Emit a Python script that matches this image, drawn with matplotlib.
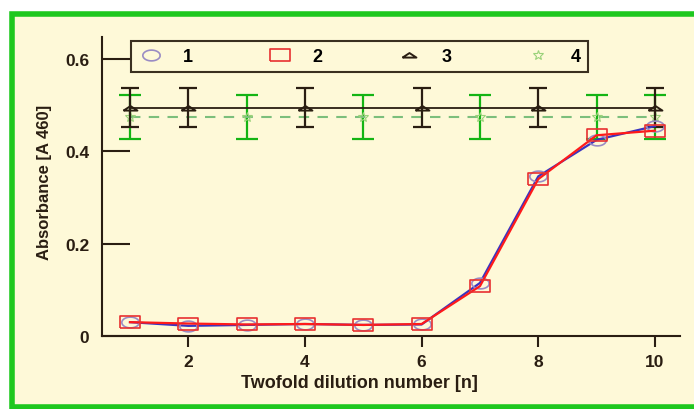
import numpy as np
import matplotlib
matplotlib.use("Agg")
from matplotlib import pyplot as plt
from matplotlib.patches import Rectangle

plt.rcParams['font.family'] = ['Liberation Sans', 'DejaVu Sans']
plt.rcParams['font.weight'] = 'bold'
plt.rcParams['axes.labelweight'] = 'bold'

# dilution steps
dil = np.arange(1, 11)
abs1 = [0.030, 0.022, 0.024, 0.026, 0.024, 0.025, 0.115, 0.346, 0.425, 0.455]
abs2 = [0.030, 0.027, 0.025, 0.026, 0.024, 0.026, 0.108, 0.340, 0.435, 0.445]

# controls, drawn with error bars
ctrl3_x = [1, 2, 4, 6, 8, 10]
ctrl3_y = [0.495] * 6
ctrl3_err = [0.043] * 6
ctrl4_x = [1, 3, 5, 7, 9, 10]
ctrl4_y = [0.475] * 6
ctrl4_err = [0.047] * 6

labels = ['1', '2', '3', '4']

bg = '#fef9d8'
ink = '#2a1e12'

fig = plt.figure(figsize=(6.94, 4.10), dpi=100)
fig.patch.set_facecolor('white')
fig.patches.append(Rectangle((12/694, 1-407.5/410), 700/694, (407.5-14.5)/410,
                             transform=fig.transFigure, facecolor=bg,
                             edgecolor='#1ec81e', linewidth=4, zorder=-10))

ax = fig.add_axes([102/694, 1-337/410, (680-102)/694, (337-38)/410])
ax.set_facecolor('none')

# flattened markers
rect = [(-1, -0.6), (1, -0.6), (1, 0.6), (-1, 0.6), (-1, -0.6)]
t = np.linspace(0, 2*np.pi, 40)
ell = list(zip(np.cos(t), 0.62*np.sin(t)))
tri = [(-1, -0.3), (0, 0.35), (1, -0.3), (-1, -0.3)]

ax.errorbar(ctrl4_x, ctrl4_y, yerr=ctrl4_err, fmt='none', ecolor='#14b414',
            elinewidth=1.6, capsize=8, capthick=1.6, zorder=2)
ax.plot(dil, [ctrl4_y[0]]*len(dil), color='#7cbf7c', lw=1.5, ls=(0, (5, 4)), zorder=2)
ax.plot(ctrl4_x, ctrl4_y, ls='none', marker='*', ms=7, mfc='none', mec='#9ad27a',
        mew=0.8, zorder=3, label=labels[3])

ax.errorbar(ctrl3_x, ctrl3_y, yerr=ctrl3_err, fmt='none', ecolor=ink,
            elinewidth=1.6, capsize=6.5, capthick=1.6, zorder=4)
ax.plot(dil, [ctrl3_y[0]]*len(dil), color=ink, lw=1.3, zorder=4)
ax.plot(ctrl3_x, ctrl3_y, ls='none', marker=tri, ms=10, mfc='none', mec=ink,
        mew=1.4, zorder=5, label=labels[2])

ax.plot(dil, abs1, color='#3a34c0', lw=1.6, zorder=6)
ax.plot(dil, abs1, ls='none', marker=ell, ms=12.5, mfc='none', mec='#9a8cc4',
        mew=1.2, zorder=7, label=labels[0])
ax.plot(dil, abs2, color='#ff1a1a', lw=1.6, zorder=8)
ax.plot(dil, abs2, ls='none', marker=rect, ms=14, mfc='none', mec='#e83030',
        mew=1.2, zorder=9, label=labels[1])

ax.set_xlim(0.52, 10.43)
ax.set_ylim(0, 0.648)
ax.set_xticks([2, 4, 6, 8, 10])
ax.set_yticks([0, 0.2, 0.4, 0.6])
ax.set_yticklabels(['0', '0.2', '0.4', '0.6'])
ax.tick_params(axis='y', direction='in', length=20, width=1.5, color=ink,
               labelsize=12.5, pad=9, labelcolor=ink)
ax.tick_params(axis='x', direction='out', length=8, width=1.5, color=ink,
               labelsize=12.5, pad=5, labelcolor=ink)
for s in ['top', 'right']:
    ax.spines[s].set_visible(False)
for s in ['left', 'bottom']:
    ax.spines[s].set_color(ink)
    ax.spines[s].set_linewidth(1.5)

ax.set_xlabel('Twofold dilution number [n]', fontsize=13, color=ink)
ax.xaxis.set_label_coords((359-102)/578, -(384-337)/299)
ax.xaxis.label.set_va('center')
ax.set_ylabel('Absorbance [A 460]', fontsize=12, color=ink)
ax.yaxis.set_label_coords(-(102-45)/578, (337-182)/299)
ax.yaxis.label.set_va('center')

h, l = ax.get_legend_handles_labels()
order = [l.index(k) for k in labels]
leg = ax.legend([h[i] for i in order], [l[i] for i in order], ncol=4,
                loc='upper left', bbox_to_anchor=((131-102)/578, 1-4/299),
                frameon=True, fancybox=False, fontsize=13, handlelength=1.4,
                handletextpad=1.1, columnspacing=4.1, borderpad=0.4,
                borderaxespad=0)
leg.get_frame().set_edgecolor('#3a3020')
leg.get_frame().set_linewidth(1.5)
leg.get_frame().set_facecolor(bg)
leg.get_frame().set_alpha(1)

fig.savefig('out.png', dpi=100, facecolor=fig.get_facecolor())
